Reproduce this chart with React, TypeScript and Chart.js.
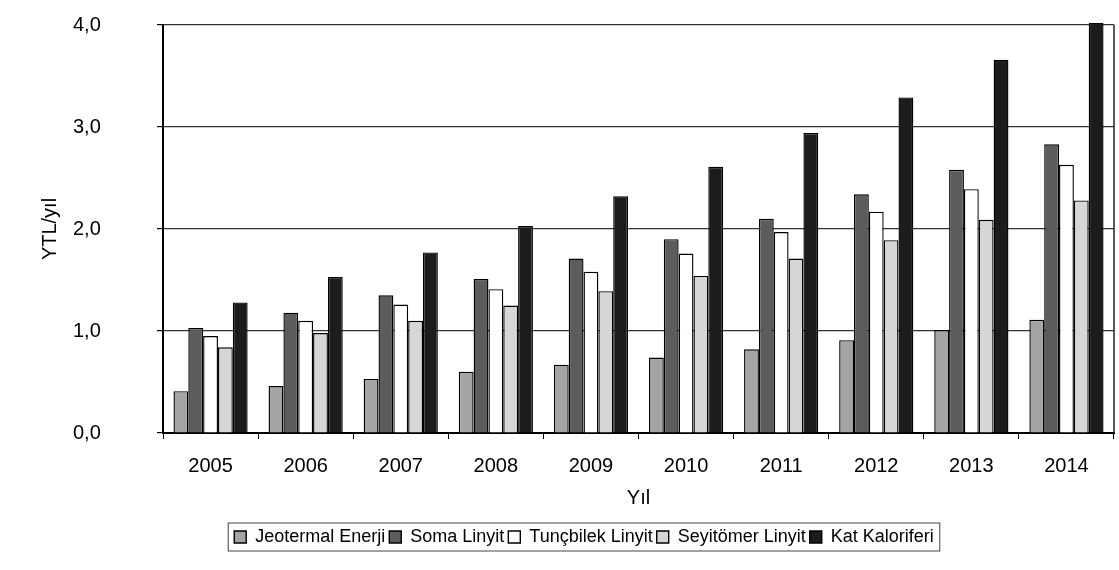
import { useEffect, useRef } from "react";
import { Chart, registerables } from "chart.js";

Chart.register(...registerables);

const years = ["2005", "2006", "2007", "2008", "2009", "2010", "2011", "2012", "2013", "2014"];
const jeotermalEnerji = [0.41, 0.46, 0.53, 0.6, 0.67, 0.74, 0.82, 0.91, 1.01, 1.11];
const somaLinyit = [1.03, 1.18, 1.35, 1.51, 1.71, 1.9, 2.1, 2.34, 2.58, 2.83];
const tuncbilekLinyit = [0.95, 1.1, 1.26, 1.41, 1.58, 1.76, 1.97, 2.17, 2.39, 2.63];
const seyitomerLinyit = [0.84, 0.98, 1.1, 1.25, 1.39, 1.54, 1.71, 1.89, 2.09, 2.28];
const katKaloriferi = [1.28, 1.53, 1.77, 2.03, 2.32, 2.61, 2.94, 3.29, 3.66, 4.02];
const seriesNames = ["Jeotermal Enerji", "Soma Linyit", "Tunçbilek Linyit", "Seyitömer Linyit", "Kat Kaloriferi"];
const yMin = 0;
const yMax = 4;
const yStep = 1;

const FONT = "'Liberation Sans', Arial, Helvetica, sans-serif";

const framePlugin = {
  id: "frameAndLegendBox",
  afterLayout(chart: any) {
    const lg = chart.legend;
    if (lg) {
      const shift = 584 - (lg.left + lg.right) / 2;
      lg.left += shift;
      lg.right += shift;
    }
  },
  afterDraw(chart: any) {
    const { ctx, chartArea } = chart;
    ctx.save();
    ctx.strokeStyle = "#222";
    ctx.lineWidth = 1.5;
    ctx.beginPath();
    ctx.moveTo(chartArea.right, chartArea.top);
    ctx.lineTo(chartArea.right, chartArea.bottom);
    ctx.stroke();
    const hb = chart.legend && chart.legend.legendHitBoxes;
    if (hb && hb.length) {
      const l = hb[0].left - 6;
      const last = hb[hb.length - 1];
      const r = last.left + last.width + 6;
      const t = hb[0].top - 5;
      const b = hb[0].top + hb[0].height + 5;
      ctx.strokeStyle = "#444";
      ctx.lineWidth = 1;
      ctx.strokeRect(l, t, r - l, b - t);
    }
    ctx.restore();
  },
};

export default function App() {
  const ref = useRef<HTMLCanvasElement>(null);
  useEffect(() => {
    document.body.style.margin = "0";
    document.body.style.overflow = "hidden";
    const colors = ["#a4a4a4", "#5c5c5c", "#ffffff", "#d6d6d6", "#1c1c1c"];
    const series = [jeotermalEnerji, somaLinyit, tuncbilekLinyit, seyitomerLinyit, katKaloriferi];
    const chart = new Chart(ref.current!, {
      type: "bar",
      data: {
        labels: years,
        datasets: series.map((d, i) => ({
          label: seriesNames[i],
          data: d,
          backgroundColor: colors[i],
          borderColor: "#000",
          borderWidth: 1.4,
          categoryPercentage: 0.78,
          barPercentage: 1.0,
          clip: false as any,
        })),
      },
      options: {
        responsive: false,
        animation: false,
        devicePixelRatio: 1,
        layout: { padding: { left: 73, right: 5, top: 25, bottom: 14 } },
        plugins: {
          tooltip: { enabled: false },
          legend: {
            position: "bottom",
            labels: {
              font: { family: FONT, size: 18 },
              color: "#000",
              boxWidth: 12,
              boxHeight: 12,
              padding: 4,
            },
          },
        },
        scales: {
          x: {
            grid: {
              offset: true,
              drawOnChartArea: false,
              drawTicks: true,
              tickLength: 6,
              tickColor: "#000",
            },
            border: { color: "#000", width: 2 },
            ticks: { font: { family: FONT, size: 20 }, color: "#000", padding: 15 },
            title: {
              display: true,
              text: "Yıl",
              font: { family: FONT, size: 20 },
              color: "#000",
              padding: { top: 0, bottom: 14 },
            },
            afterFit: (s: any) => {
              s.height = 91;
            },
          },
          y: {
            min: yMin,
            max: yMax,
            ticks: {
              stepSize: yStep,
              font: { family: FONT, size: 20 },
              color: "#000",
              padding: 4,
              crossAlign: "far",
              callback: (v: any) => Number(v).toFixed(1).replace(".", ","),
            },
            grid: {
              color: "#333",
              lineWidth: 1.2,
              drawTicks: true,
              tickLength: 6,
              tickColor: "#000",
            },
            border: { color: "#000", width: 2 },
            title: {
              display: true,
              text: "YTL/yıl",
              font: { family: FONT, size: 20 },
              color: "#000",
              padding: { top: -35, bottom: 0 },
            },
            afterFit: (s: any) => {
              s.width = 90;
            },
          },
        },
      },
      plugins: [framePlugin],
    });
    return () => chart.destroy();
  }, []);
  return (
    <div style={{ width: 1119, height: 570 }}>
      <canvas ref={ref} width={1119} height={570} style={{ display: "block" }} />
    </div>
  );
}
